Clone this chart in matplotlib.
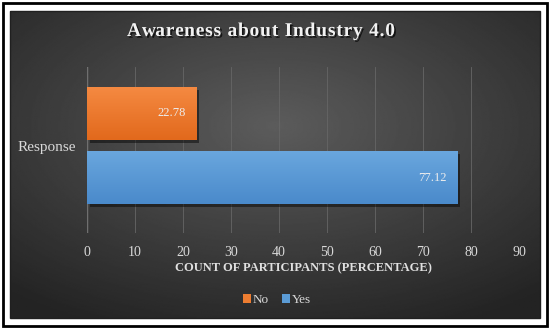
import numpy as np
import matplotlib
matplotlib.use("Agg")
import matplotlib.pyplot as plt
import matplotlib.patheffects as pe
from matplotlib.patches import Rectangle
from matplotlib.colors import LinearSegmentedColormap

# ---- data ----
category = ["Response"]
series_names = ["No", "Yes"]
values_no = [22.78]
values_yes = [77.12]
xticks = [0, 10, 20, 30, 40, 50, 60, 70, 80, 90]
title = "Awareness about Industry 4.0"
xlabel = "COUNT OF PARTICIPANTS (PERCENTAGE)"

plt.rcParams['font.family'] = ['Liberation Serif', 'DejaVu Serif']

W, H = 550, 329
fig = plt.figure(figsize=(W / 100, H / 100), dpi=100)
fig.patch.set_facecolor("white")

# outer frame
fig.patches.append(Rectangle((3 / W, 3 / H), 1 - 6 / W, 1 - 6 / H, transform=fig.transFigure,
                             fill=False, ec="black", lw=2.0))
# dark background panel
x0, y0, x1, y1 = 10, 11, 540, 318
bg = fig.add_axes([x0 / W, 1 - y1 / H, (x1 - x0) / W, (y1 - y0) / H])
bg.set_axis_off()
gx = np.linspace(-1, 1, 400)
gy = np.linspace(-1, 1, 250)
X, Y = np.meshgrid(gx, gy)
R = np.sqrt((X * 0.85) ** 2 + ((Y + 0.25) * 0.9) ** 2)
img = 0.36 - 0.17 * np.clip(R, 0, 1.3)
bg.imshow(img, cmap="gray", vmin=0, vmax=1, aspect="auto", extent=[0, 1, 0, 1], origin="upper")
bg.set_xlim(0, 1); bg.set_ylim(0, 1)
fig.patches.append(Rectangle((x0 / W, 1 - y1 / H), (x1 - x0) / W, (y1 - y0) / H, transform=fig.transFigure,
                             fill=False, ec="#202020", lw=1.0, zorder=5))

# main axes
ax = fig.add_axes([87 / W, 1 - 233 / H, (519 - 87) / W, (233 - 67) / H])
ax.patch.set_alpha(0)
ypos = np.arange(len(category))
off = 0.193
hgt = 0.32
bars_no = ax.barh(ypos + off, values_no, height=hgt, color="#ED7D31", zorder=3)
bars_yes = ax.barh(ypos - off, values_yes, height=hgt, color="#5B9BD5", zorder=3)

shadow = [pe.SimplePatchShadow(offset=(2, -2), shadow_rgbFace="black", alpha=0.45), pe.Normal()]
for bars, top, bot in [(bars_no, "#F58A42", "#E2691C"), (bars_yes, "#6AA7DE", "#4A8ACB")]:
    for b in bars:
        b.set_path_effects(shadow)
        cm = LinearSegmentedColormap.from_list("g", [top, bot])
        bb = b.get_bbox()
        im = ax.imshow(np.linspace(0, 1, 64).reshape(-1, 1), cmap=cm, aspect="auto",
                       extent=[bb.x0, bb.x1, bb.y0, bb.y1], origin="upper", zorder=4)
        im.set_clip_path(b)

for bars, vals in [(bars_no, values_no), (bars_yes, values_yes)]:
    for b, v in zip(bars, vals):
        ax.text(b.get_width() - 2.2, b.get_y() + b.get_height() / 2, f"{v:.2f}",
                ha="right", va="center", color="#EDEDED", fontsize=9, zorder=6)

ax.set_xlim(0, 90)
ax.set_ylim(-0.527, 0.473)
ax.set_xticks(xticks)
ax.set_xticklabels([str(t) for t in xticks])
ax.set_yticks(ypos)
ax.set_yticklabels(category)
ax.grid(axis="x", color="#666666", lw=0.6, zorder=0)
ax.axvline(0, color="#A0A0A0", lw=0.9, zorder=1)
for s in ax.spines.values():
    s.set_visible(False)
ax.tick_params(axis="both", length=0, colors="#D9D9D9")
ax.tick_params(axis="x", labelsize=10, pad=9)
ax.tick_params(axis="y", labelsize=11, pad=8)
ax.set_xlabel(xlabel, color="#E0E0E0", fontsize=9, fontweight="bold", labelpad=3)

# title with letter spacing (per-character placement)
renderer = fig.canvas.get_renderer()
tkw = dict(fontsize=14, fontweight="bold", color="#F2F2F2", va="baseline", ha="left",
           path_effects=[pe.withSimplePatchShadow(offset=(1.2, -1.2), shadow_rgbFace="black", alpha=0.7)])
def text_w(s):
    if not s:
        return 0.0
    t = fig.text(0, 0, s.replace(" ", "\u00a0"), **tkw)
    w = t.get_window_extent(renderer).width
    t.remove()
    return w
target_w = 268.0
base_w = text_w(title)
gap = (target_w - base_w) / (len(title) - 1)
start_x = 261 - target_w / 2
base_y = H - 36
for i, ch in enumerate(title):
    if ch == " ":
        continue
    px = start_x + text_w(title[:i]) + gap * i
    fig.text(px / W, base_y / H, ch, **tkw)

leg = fig.legend(handles=[bars_no, bars_yes], labels=series_names, loc="center",
                 bbox_to_anchor=(277 / W, 1 - 300 / H), ncol=2, frameon=False,
                 fontsize=9.5, handlelength=0.6, handleheight=0.6, handletextpad=0.15,
                 columnspacing=1.0, labelcolor="#D9D9D9")
for h in leg.legend_handles:
    h.set_path_effects([])

fig.savefig("out.png", dpi=100)
